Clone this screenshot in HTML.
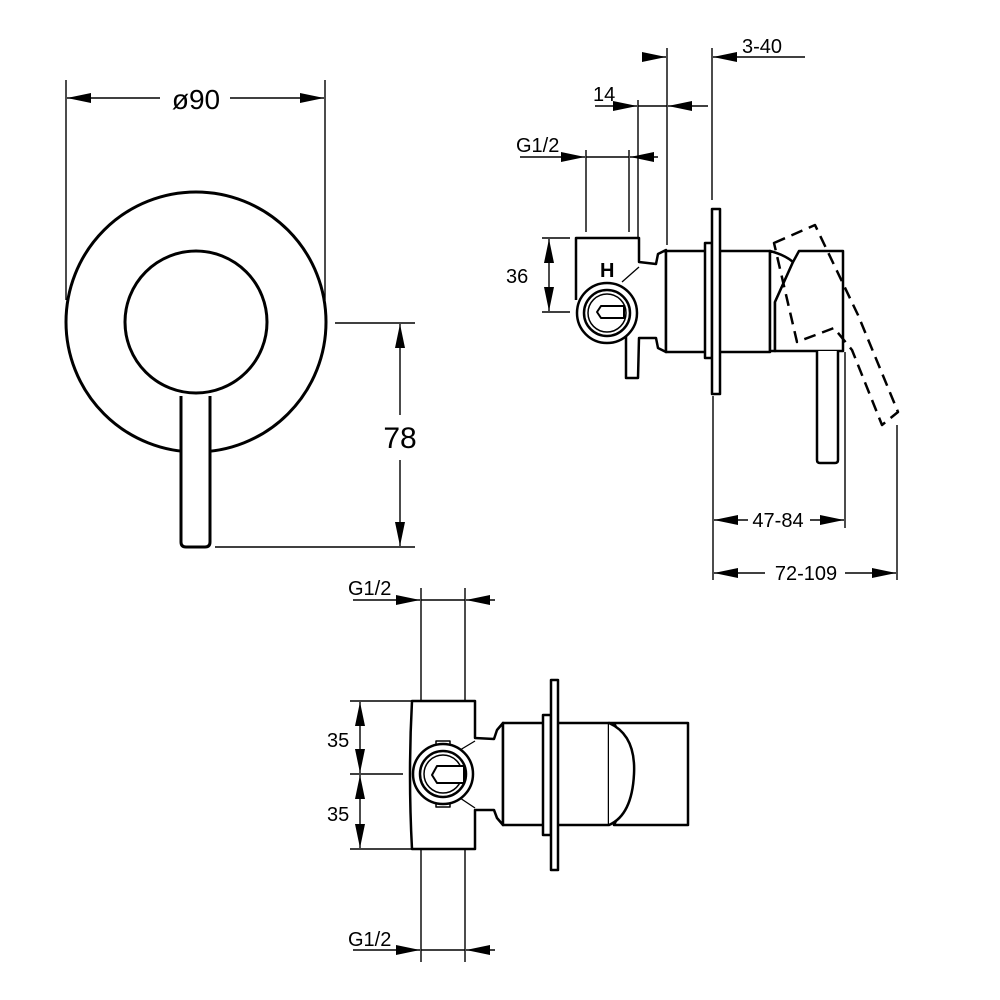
<!DOCTYPE html>
<html><head><meta charset="utf-8"><style>html,body{margin:0;padding:0;background:#fff}svg{display:block}</style></head>
<body>
<svg width="1000" height="1000" viewBox="0 0 1000 1000" xmlns="http://www.w3.org/2000/svg" font-family="Liberation Sans, sans-serif">
<defs>
<marker id="a" viewBox="0 0 10 10" refX="10" refY="5" markerWidth="24" markerHeight="10" markerUnits="userSpaceOnUse" orient="auto" preserveAspectRatio="none"><path d="M0,0L10,5L0,10z" fill="#000"/></marker>
</defs>
<g stroke="#000" fill="none" stroke-width="1.4">
<line x1="66" y1="80" x2="66" y2="300"/><line x1="325" y1="80" x2="325" y2="300"/>
<line x1="160" y1="98" x2="67" y2="98" marker-end="url(#a)"/><line x1="230" y1="98" x2="324" y2="98" marker-end="url(#a)"/>
<line x1="335" y1="323" x2="415" y2="323"/><line x1="215" y1="547" x2="415" y2="547"/>
<line x1="400" y1="415" x2="400" y2="324" marker-end="url(#a)"/><line x1="400" y1="460" x2="400" y2="546" marker-end="url(#a)"/>
</g>
<g stroke="#000" fill="none" stroke-width="3">
<circle cx="196" cy="322" r="130"/>
<circle cx="196" cy="322" r="71"/>
<path d="M181,396 L181,542 Q181,547 186,547 L205,547 Q210,547 210,542 L210,396" fill="#fff"/>
</g>
<text x="196" y="109" font-size="28" text-anchor="middle">ø90</text>
<text x="400" y="448" font-size="30" text-anchor="middle">78</text>

<g stroke="#000" fill="none" stroke-width="1.4">
<line x1="667" y1="48" x2="667" y2="245"/><line x1="712" y1="48" x2="712" y2="200"/>
<line x1="645" y1="57" x2="666" y2="57" marker-end="url(#a)"/><line x1="805" y1="57" x2="713" y2="57" marker-end="url(#a)"/>
<line x1="638" y1="100" x2="638" y2="240"/>
<line x1="595" y1="106" x2="637" y2="106" marker-end="url(#a)"/><line x1="708" y1="106" x2="668" y2="106" marker-end="url(#a)"/><line x1="638" y1="106" x2="667" y2="106"/>
<line x1="586" y1="150" x2="586" y2="232"/><line x1="629" y1="150" x2="629" y2="232"/>
<line x1="520" y1="157" x2="585" y2="157" marker-end="url(#a)"/><line x1="658" y1="157" x2="630" y2="157" marker-end="url(#a)"/><line x1="586" y1="157" x2="629" y2="157"/>
<line x1="542" y1="238" x2="570" y2="238"/><line x1="542" y1="312" x2="570" y2="312"/>
<line x1="549" y1="275" x2="549" y2="239" marker-end="url(#a)"/><line x1="549" y1="275" x2="549" y2="311" marker-end="url(#a)"/>
<line x1="713" y1="396" x2="713" y2="580"/><line x1="845" y1="352" x2="845" y2="528"/><line x1="897" y1="425" x2="897" y2="580"/>
<line x1="748" y1="520" x2="714" y2="520" marker-end="url(#a)"/><line x1="810" y1="520" x2="844" y2="520" marker-end="url(#a)"/>
<line x1="765" y1="573" x2="714" y2="573" marker-end="url(#a)"/><line x1="845" y1="573" x2="896" y2="573" marker-end="url(#a)"/>
</g>
<g font-size="20">
<text x="742" y="53">3-40</text><text x="593" y="101">14</text><text x="516" y="152">G1/2</text>
<text x="506" y="283">36</text><text x="778" y="527" text-anchor="middle">47-84</text><text x="806" y="580" text-anchor="middle">72-109</text>
</g>
<g stroke="#000" fill="#fff" stroke-width="2.5" stroke-linejoin="round">
<path d="M576,300 L576,238 L639,238 L639,262 L656,264 L658,254 L666,250 L666,352 L658,348 L656,338 L639,338 L638,378 L626,378 L626,335"/>
<circle cx="607" cy="313" r="30"/>
<circle cx="607" cy="313" r="23"/>
<circle cx="607" cy="313" r="19" stroke-width="1.5"/>
<path d="M601,306 L624,306 L624,318 L601,318 L597,312z" stroke-width="2"/>
<line x1="622" y1="282" x2="639" y2="267" stroke-width="1.3"/>
<rect x="666" y="251" width="104" height="101"/>
<rect x="705" y="243" width="7" height="115"/>
<rect x="712" y="209" width="8" height="185"/>
<path d="M770,251 Q785,255 793,262 L775,302 L775,351 L770,351z"/>
<path d="M799,251 L843,251 L843,351 L775,351 L775,302 L793,262z"/>
<path d="M817,351 L817,460 Q817,463 820,463 L835,463 Q838,463 838,460 L838,351"/>
<path d="M774,243 L815,225 L858,315 L898,412 L882,425 L852,350 L834,328 L797,342z" fill="none" stroke-dasharray="12,7"/>
</g>
<text x="600" y="277" font-size="20" font-weight="bold" fill="#000">H</text>

<g stroke="#000" fill="none" stroke-width="1.4">
<line x1="421" y1="588" x2="421" y2="962"/><line x1="465" y1="588" x2="465" y2="962"/>
<line x1="353" y1="600" x2="420" y2="600" marker-end="url(#a)"/><line x1="495" y1="600" x2="466" y2="600" marker-end="url(#a)"/><line x1="421" y1="600" x2="465" y2="600"/>
<line x1="353" y1="950" x2="420" y2="950" marker-end="url(#a)"/><line x1="495" y1="950" x2="466" y2="950" marker-end="url(#a)"/><line x1="421" y1="950" x2="465" y2="950"/>
<line x1="350" y1="701" x2="412" y2="701"/><line x1="350" y1="774" x2="403" y2="774"/><line x1="350" y1="849" x2="412" y2="849"/>
<line x1="360" y1="737" x2="360" y2="702" marker-end="url(#a)"/><line x1="360" y1="737" x2="360" y2="773" marker-end="url(#a)"/>
<line x1="360" y1="812" x2="360" y2="775" marker-end="url(#a)"/><line x1="360" y1="812" x2="360" y2="848" marker-end="url(#a)"/>
</g>
<g font-size="20"><text x="348" y="595">G1/2</text><text x="348" y="946">G1/2</text><text x="327" y="747">35</text><text x="327" y="821">35</text></g>
<g stroke="#000" fill="#fff" stroke-width="2.5" stroke-linejoin="round">
<path d="M412,701 L475,701 L475,738 L494,739 L497,730 L503,723 L503,825 L497,818 L494,810 L475,810 L475,849 L412,849 Q408,775 412,701z"/>
<rect x="436" y="741" width="14" height="6" stroke-width="1.5"/><rect x="436" y="801" width="14" height="6" stroke-width="1.5"/>
<circle cx="443" cy="774" r="30"/>
<circle cx="443" cy="774" r="23"/>
<circle cx="443" cy="774" r="19" stroke-width="1.5"/>
<path d="M437,766 L464,766 L464,783 L437,783 L432,775z" stroke-width="2"/>
<line x1="460" y1="750" x2="475" y2="741" stroke-width="1.3"/><line x1="460" y1="798" x2="475" y2="808" stroke-width="1.3"/>
<rect x="503" y="723" width="106" height="102"/>
<rect x="543" y="715" width="8" height="120"/>
<rect x="551" y="680" width="7" height="190"/>
<path d="M609,723 L688,723 L688,825 L614,825 Q640,774 614,723z"/>
<path d="M609,723 Q636,735 634,774 Q632,815 609,825"/>
</g>
</svg>
</body></html>
